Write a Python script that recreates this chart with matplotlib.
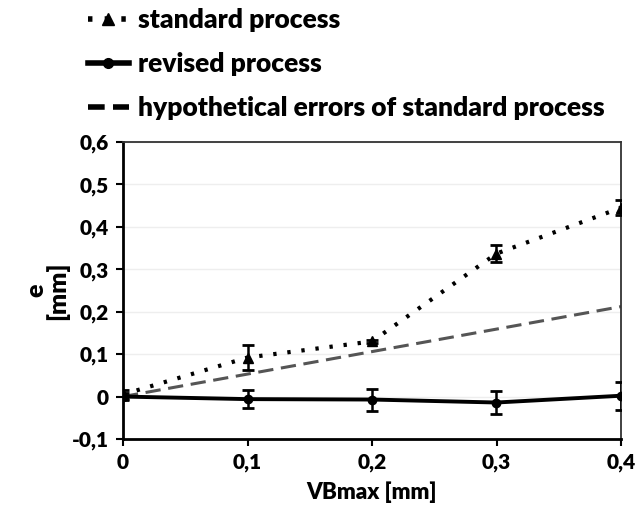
import numpy as np
import matplotlib.pyplot as plt
from matplotlib.lines import Line2D
from matplotlib.ticker import FuncFormatter, MultipleLocator

# data
vb = [0.0, 0.1, 0.2, 0.3, 0.4]
standard = [0.005, 0.092, 0.13, 0.337, 0.445]
standard_err = [0.01, 0.03, 0.004, 0.02, 0.018]
revised = [0.0, -0.006, -0.007, -0.014, 0.002]
revised_err = [0.008, 0.021, 0.026, 0.026, 0.033]
hypothetical = [0.0, 0.053, 0.106, 0.159, 0.212]

plt.rcParams['font.family'] = ['Lato', 'DejaVu Sans']
plt.rcParams['font.weight'] = 'heavy'

fig = plt.figure(figsize=(6.44, 5.19), dpi=100)
ax = fig.add_axes([123 / 644, 1 - 439 / 519, (621 - 123) / 644, (439 - 142) / 519])

dots = (0, (0.8, 2.6))
ax.errorbar(vb, standard, yerr=standard_err, color='black', linestyle=dots,
            linewidth=3, marker='^', markersize=7, capsize=4, capthick=2,
            elinewidth=1.8, zorder=3)
ax.errorbar(vb, revised, yerr=revised_err, color='black', linestyle='-',
            linewidth=2.8, marker='o', markersize=6, capsize=4, capthick=2,
            elinewidth=1.8, zorder=3)
ax.plot(vb, hypothetical, color='#555555', linestyle=(0, (5, 2.5)), linewidth=2.2, zorder=2)

ax.set_xlim(0, 0.4)
ax.set_ylim(-0.1, 0.6)
ax.xaxis.set_major_locator(MultipleLocator(0.1))
ax.yaxis.set_major_locator(MultipleLocator(0.1))
fmt = FuncFormatter(lambda v, p: ('%g' % round(v, 2)).replace('.', ','))
ax.xaxis.set_major_formatter(fmt)
ax.yaxis.set_major_formatter(fmt)
ax.grid(axis='y', color='#eeeeee', linewidth=1)
ax.set_axisbelow(True)
ax.tick_params(direction='out', length=5, width=1.5, labelsize=15, pad=5)
for s in ['left', 'bottom']:
    ax.spines[s].set_linewidth(2)
for s in ['top', 'right']:
    ax.spines[s].set_linewidth(1.3)
    ax.spines[s].set_color('#333333')

ax.set_xlabel('VBmax [mm]', fontsize=16, fontweight='heavy', labelpad=7)
ax.set_ylabel('e\n[mm]', fontsize=18, fontweight='heavy', labelpad=2, linespacing=0.9)

handles = [
    Line2D([], [], color='black', linestyle=(0, (0.8, 2.2)), linewidth=4, marker='^', markersize=9),
    Line2D([], [], color='black', linestyle='-', linewidth=4, marker='o', markersize=7),
    Line2D([], [], color='black', linestyle=(0, (3, 1.5)), linewidth=4),
]
labels = ['standard process', 'revised process', 'hypothetical errors of standard process']
fig.legend(handles, labels, loc='upper left', bbox_to_anchor=(64 / 644, 1.03), frameon=False,
           fontsize=19, handlelength=1.55, labelspacing=0.76, handletextpad=0.35)

fig.savefig('out.png', dpi=100)
